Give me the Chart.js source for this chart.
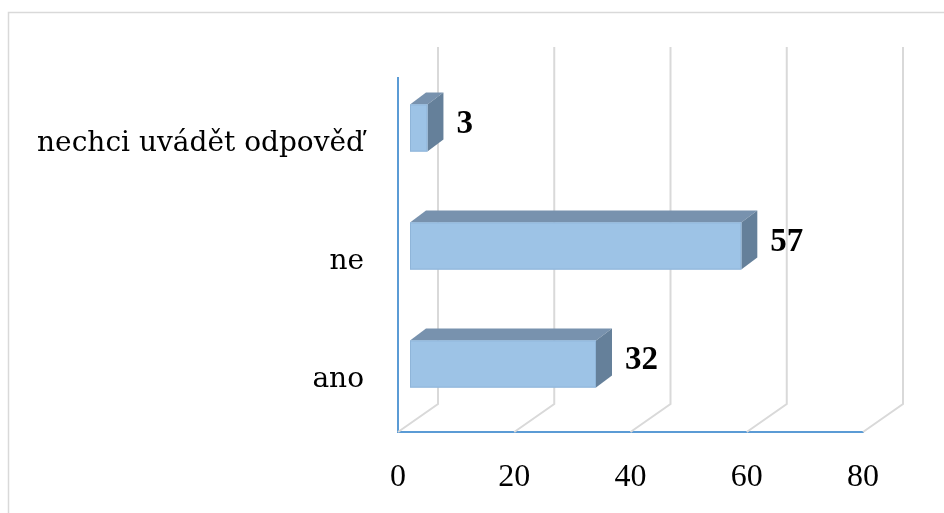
<!DOCTYPE html>
<html>
<head>
<meta charset="utf-8">
<script src="https://cdn.jsdelivr.net/npm/chart.js@4.4.1/dist/chart.umd.min.js"></script>
<style>
    html, body { margin: 0; padding: 0; background: #ffffff; }
    #wrap { width: 944px; height: 513px; }
</style>
</head>
<body>
<div id="wrap"><canvas id="chart" width="944" height="513"></canvas></div>
<script>
// data
const categories = ["nechci uvádět odpověď", "ne", "ano"];
const answers = [3, 57, 32];
const axisTicks = [0, 20, 40, 60, 80];

// 3d look: offset of bar front face, bar depth, back wall offset
const BAR_OFF = { x: 12, y: -9 };
const BAR_DEPTH = { x: 16, y: -12 };
const WALL = { x: 40, y: -28 };

const frame = {
    id: "frame",
    beforeDraw(chart) {
        const ctx = chart.ctx;
        ctx.save();
        ctx.strokeStyle = "#d9d9d9";
        ctx.lineWidth = 1.5;
        ctx.strokeRect(8.5, 12.5, 1200, 1200);
        ctx.restore();
    },
    beforeDatasetsDraw(chart) {
        const ctx = chart.ctx;
        const area = chart.chartArea;
        const xs = chart.scales.x;
        ctx.save();
        ctx.strokeStyle = "#d9d9d9";
        ctx.lineWidth = 2;
        axisTicks.forEach((v) => {
            const px = xs.getPixelForValue(v);
            ctx.beginPath();
            ctx.moveTo(px, area.bottom);
            ctx.lineTo(px + WALL.x, area.bottom + WALL.y);
            ctx.lineTo(px + WALL.x, area.top - 31);
            ctx.stroke();
        });
        ctx.restore();
    },
    afterDatasetsDraw(chart) {
        const ctx = chart.ctx;
        const meta = chart.getDatasetMeta(0);
        ctx.save();
        meta.data.forEach((bar, i) => {
            const p = bar.getProps(["x", "y", "base", "height"], true);
            const left = p.base + BAR_OFF.x;
            const right = p.x + BAR_OFF.x;
            const top = p.y - p.height / 2 + BAR_OFF.y;
            const bottom = p.y + p.height / 2 + BAR_OFF.y;

            // top face
            ctx.fillStyle = "#7892ae";
            ctx.beginPath();
            ctx.moveTo(left, top);
            ctx.lineTo(right, top);
            ctx.lineTo(right + BAR_DEPTH.x, top + BAR_DEPTH.y);
            ctx.lineTo(left + BAR_DEPTH.x, top + BAR_DEPTH.y);
            ctx.closePath();
            ctx.fill();

            // side face
            ctx.fillStyle = "#65809a";
            ctx.beginPath();
            ctx.moveTo(right, top);
            ctx.lineTo(right + BAR_DEPTH.x, top + BAR_DEPTH.y);
            ctx.lineTo(right + BAR_DEPTH.x, bottom + BAR_DEPTH.y);
            ctx.lineTo(right, bottom);
            ctx.closePath();
            ctx.fill();

            // front face
            ctx.fillStyle = "#9dc3e6";
            ctx.fillRect(left, top, right - left, bottom - top);
            ctx.strokeStyle = "#8fb5d9";
            ctx.lineWidth = 1;
            ctx.strokeRect(left + 0.5, top + 0.5, right - left - 1, bottom - top - 1);

            // value label
            ctx.fillStyle = "#000000";
            ctx.font = "bold 33px 'Liberation Serif'";
            ctx.textAlign = "left";
            ctx.textBaseline = "middle";
            ctx.fillText(String(answers[i]), right + BAR_DEPTH.x + 13, (top + bottom) / 2 - 4);
        });
        ctx.restore();
    },
};

new Chart(document.getElementById("chart"), {
    type: "bar",
    data: {
        labels: categories,
        datasets: [{
            data: answers,
            backgroundColor: "rgba(0,0,0,0)",
            borderWidth: 0,
            barPercentage: 0.4,
            categoryPercentage: 1,
        }],
    },
    options: {
        indexAxis: "y",
        responsive: false,
        animation: false,
        events: [],
        layout: { padding: { top: 78, right: 81, bottom: 0, left: 0 } },
        plugins: {
            legend: { display: false },
            tooltip: { enabled: false },
        },
        scales: {
            x: {
                min: 0,
                max: 80,
                afterBuildTicks: (scale) => { scale.ticks = axisTicks.map((v) => ({ value: v })); },
                afterFit: (scale) => { scale.height = 81; },
                grid: { display: false },
                border: { display: true, color: "#5b9bd5", width: 2 },
                ticks: {
                    padding: 18,
                    color: "#000000",
                    font: { family: "'Liberation Serif'", size: 32 },
                },
            },
            y: {
                afterFit: (scale) => { scale.width = 398; },
                grid: { display: false },
                border: { display: true, color: "#5b9bd5", width: 2 },
                ticks: {
                    padding: 26,
                    labelOffset: 7,
                    color: "#000000",
                    font: { family: "'DejaVu Serif'", size: 28 },
                },
            },
        },
    },
    plugins: [frame],
});
</script>
</body>
</html>
